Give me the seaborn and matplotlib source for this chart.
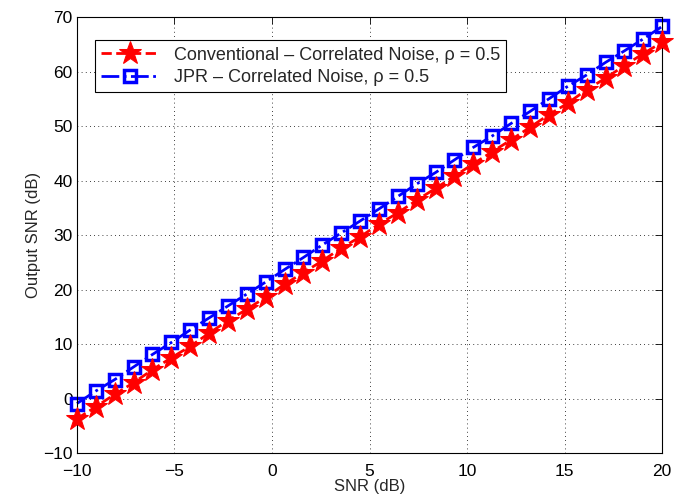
import numpy as np
import pandas as pd
import matplotlib
matplotlib.use("Agg")
import matplotlib.pyplot as plt
import seaborn as sns

# SNR grid (dB) and output SNR
snr = [-10.0, -9.03, -8.06, -7.10, -6.13, -5.16, -4.19, -3.23, -2.26, -1.29,
       -0.32, 0.65, 1.61, 2.58, 3.55, 4.52, 5.48, 6.45, 7.42, 8.39,
       9.35, 10.32, 11.29, 12.26, 13.23, 14.19, 15.16, 16.13, 17.10, 18.06,
       19.03, 20.0]
conventional = [-3.7, -1.5, 0.8, 2.9, 5.3, 7.5, 9.6, 12.0, 14.3, 16.4,
                18.6, 21.0, 23.1, 25.3, 27.6, 29.7, 32.0, 34.1, 36.4, 38.6,
                40.8, 43.1, 45.3, 47.5, 49.8, 52.1, 54.2, 56.7, 58.8, 61.1,
                63.3, 65.4]
jpr = [-0.9, 1.4, 3.5, 5.8, 8.1, 10.3, 12.6, 14.8, 17.0, 19.2,
       21.4, 23.7, 25.9, 28.2, 30.4, 32.6, 34.8, 37.1, 39.4, 41.5,
       43.8, 46.1, 48.2, 50.5, 52.7, 55.0, 57.3, 59.4, 61.7, 63.8,
       66.0, 68.3]

labels = ["Conventional \u2013 Correlated Noise, \u03c1 = 0.5",
          "JPR \u2013 Correlated Noise, \u03c1 = 0.5"]

sns.set_style("white")
plt.rcParams['font.family'] = ['Liberation Sans', 'DejaVu Sans']

df = pd.DataFrame({"snr": snr, "conv": conventional, "jpr": jpr})

fig = plt.figure(figsize=(6.75, 5.04), dpi=100)
ax = fig.add_axes([0.114, 0.101, 0.867, 0.865])

sns.lineplot(data=df, x="snr", y="conv", ax=ax, color="#ff0000",
             linestyle="--", linewidth=2, marker="*", markersize=17,
             markeredgecolor="#ff0000", label=labels[0], zorder=3,
             clip_on=False)
sns.lineplot(data=df, x="snr", y="jpr", ax=ax, color="#0000ff",
             linestyle="-.", linewidth=2, marker="s", markersize=9,
             markerfacecolor="none", markeredgecolor="#0000ff",
             markeredgewidth=2.5, label=labels[1], zorder=2,
             clip_on=False)

ax.set_xlim(-10, 20)
ax.set_ylim(-10, 70)
ax.set_xticks(np.arange(-10, 21, 5))
ax.set_yticks(np.arange(-10, 71, 10))
ax.grid(True, color="black", linestyle=(0, (1, 4)), linewidth=0.6)
ax.tick_params(direction="in", top=True, right=True, labelsize=12.5,
               length=5, width=0.6, colors="black", pad=3)
ax.tick_params(axis="x", pad=8)
for s in ax.spines.values():
    s.set_color("black")
    s.set_linewidth(0.8)

ax.set_xlabel("SNR (dB)", fontsize=12, labelpad=0)
ax.set_ylabel("Output SNR (dB)", fontsize=12, labelpad=2)

leg = ax.legend(loc="upper left", bbox_to_anchor=(0.031, 0.947), fontsize=13,
                fancybox=False, framealpha=1, edgecolor="black",
                handlelength=3.2, borderpad=0.35, labelspacing=0.3,
                borderaxespad=0)
leg.get_frame().set_linewidth(0.8)

fig.savefig("out.png", dpi=100)
